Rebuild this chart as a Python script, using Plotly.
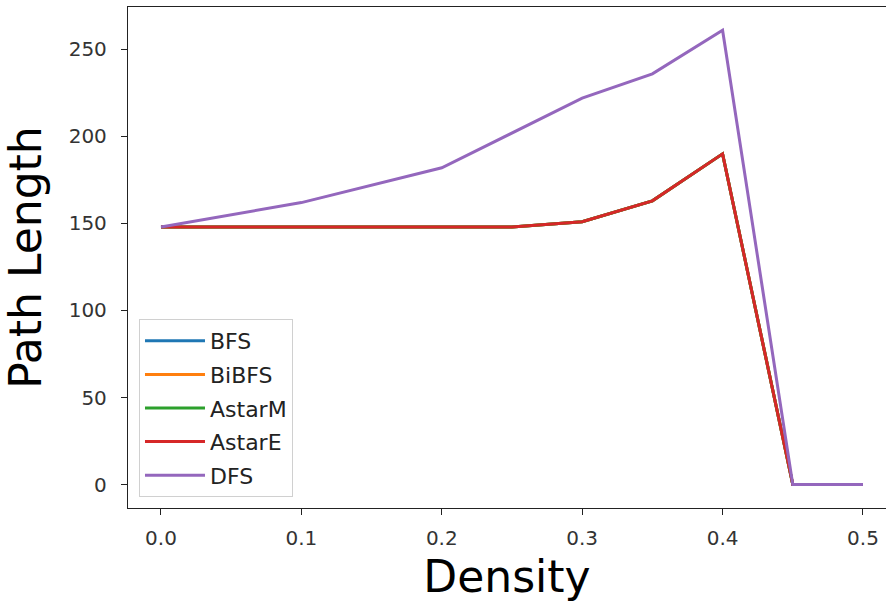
import plotly.graph_objects as go

# Obstacle density values sampled on the x axis
density = [0.0, 0.1, 0.2, 0.25, 0.3, 0.35, 0.4, 0.45, 0.5]

# Path lengths found by each search algorithm
bfs = [148, 148, 148, 148, 151, 163, 190, 0, 0]
bibfs = [148, 148, 148, 148, 151, 163, 190, 0, 0]
astar_m = [148, 148, 148, 148, 151, 163, 190, 0, 0]
astar_e = [148, 148, 148, 148, 151, 163, 190, 0, 0]
dfs = [148, 162, 182, 202, 222, 236, 261, 0, 0]

series = [
    ("BFS", bfs, "#1f77b4"),
    ("BiBFS", bibfs, "#ff7f0e"),
    ("AstarM", astar_m, "#2ca02c"),
    ("AstarE", astar_e, "#d62728"),
    ("DFS", dfs, "#9467bd"),
]

x_ticks = [0.0, 0.1, 0.2, 0.3, 0.4, 0.5]
x_tick_text = ["0.0", "0.1", "0.2", "0.3", "0.4", "0.5"]
y_ticks = [0, 50, 100, 150, 200, 250]

fig = go.Figure()
for name, values, color in series:
    fig.add_trace(go.Scatter(
        x=density, y=values, name=name, mode="lines",
        legendgroup=name,
        line=dict(color=color, width=3),
    ))

font_family = "DejaVu Sans"
axis_common = dict(
    showgrid=False, zeroline=False,
    showline=True, linecolor="#222", linewidth=1.3,
    ticks="outside", ticklen=6, tickwidth=1.3, tickcolor="#222",
    tickfont=dict(family=font_family, size=20, color="#333"),
)

fig.update_layout(
    width=886, height=602,
    margin=dict(l=128, r=0, t=7, b=94),
    paper_bgcolor="white", plot_bgcolor="white",
    font=dict(family=font_family),
    showlegend=True,
    legend=dict(
        x=0.0145, y=0.022, xanchor="left", yanchor="bottom",
        bgcolor="white", bordercolor="#d0d0d0", borderwidth=1,
        font=dict(family=font_family, size=22, color="#222"),
        traceorder="grouped", tracegroupgap=2,
        itemwidth=60,
    ),
    xaxis=dict(
        range=[-0.0235, 0.5164],
        tickvals=x_ticks, ticktext=x_tick_text,
        mirror=True,
        title=dict(text="Density", font=dict(family=font_family, size=44, color="black"), standoff=12),
        ticklabelstandoff=6,
        **axis_common,
    ),
    yaxis=dict(
        range=[-13.5, 274.4],
        tickvals=y_ticks,
        title=dict(text="Path Length", font=dict(family=font_family, size=44, color="black"), standoff=22),
        ticklabelstandoff=10,
        **axis_common,
    ),
)

fig.write_html("out.html")
